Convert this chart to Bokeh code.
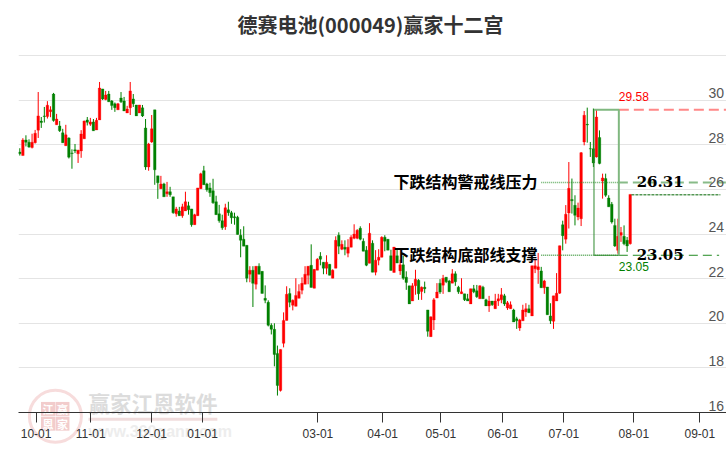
from bokeh.plotting import figure
from bokeh.embed import file_html
from bokeh.resources import INLINE
from bokeh.models import LinearAxis, FixedTicker, Range1d, ColumnDataSource, Title, Grid
from bokeh.core.properties import value

TITLE = "德赛电池(000049)赢家十二宫"
up_flags = ("GRGGRRRGGR" "RGRGGRGGGR" "RRGRGRRGRG" "GGRGGRRGGR" "GGRRGGRGRG"
            "GRGRRGGRRR" "GGGGGGGRGG" "GGGGGRGRGG" "GGGGGRRRGR" "RRRRRGRRGG"
            "RGRRGRGRRR" "RGGGRGRRRG" "GGRGRGGGRR" "GRGGRRRGRG" "GRGGRGGRGG"
            "RGGRGRRRGR" "RGGRRRGRRR" "GRGGRRRGRR" "GGRRRGGGRG" "RGGGGRRGGR")
highs = [27.85,28.3,28.43,28.25,28.5,28.67,30.37,29.25,29.7,29.96,
 29.73,30.33,29.39,29.07,28.72,28.9,28.34,27.8,28.04,27.78,
 28.66,29.09,29.25,29.21,29.16,29.21,30.82,30.51,30.42,30.42,
 30.01,29.9,29.88,30.37,30.15,29.75,30.82,30.28,29.79,29.79,
 29.79,29.16,28.09,29.34,29.57,26.61,26.61,26.3,26.34,26.12,
 25.67,25.22,25.22,25.36,25.9,25.45,25.13,24.91,26.07,26.75,
 27.06,26.3,26.3,26.48,25.72,25.31,24.87,25.36,25.45,25.04,
 24.96,24.82,24.22,24.35,23.5,22.56,22.56,22.56,22.69,22.33,
 21.7,21.03,20,20,19.0,18.83,20.49,21.66,21.57,21.07,
 22.02,21.75,22.06,22.56,22.56,23.54,22.42,22.92,23.19,22.74,
 23.05,22.65,22.42,23.9,24.08,23.72,23.72,23.77,23.95,24.44,
 24.22,24.35,23.81,23.46,24.49,23.72,23.28,23.32,23.9,23.95,
 23.77,23.3,23.42,23.3,22.85,23.03,22.33,21.68,21.8,22.4,
 21.98,21.65,21.87,20.6,20.3,21.13,21.8,21.98,22.17,22.07,
 21.95,22.43,22.33,21.68,22.02,21.32,21.32,21.55,21.72,21.72,
 21.7,21.68,21.1,21.23,21,21.32,21.32,21.58,21.32,21.0,
 20.98,20.65,20.29,20.2,20.83,20.9,20.83,22.58,22.85,23.15,
 22.53,21.95,21.63,20.9,21.23,22.25,23.48,24.6,25.3,27.23,
 26.49,25.74,25.41,27.68,29.52,29.67,28.13,29.63,29.6,28.65,
 26.71,26.71,25.74,25.44,24.69,24.69,24.32,24.39,23.87,25.78]
body_tops = [27.68,28.22,28.22,28.12,28.12,28.52,29.3,29.07,29.3,29.78,
 29.57,30.28,29.16,28.85,28.54,28.45,28.31,27.64,27.78,27.76,
 28.49,29.07,29.12,29.03,29.03,29.1,30.55,30.51,30.24,30.28,
 29.97,29.84,29.84,30.1,29.97,29.61,30.42,30.06,29.79,29.79,
 29.66,28.76,28.04,28.72,29.57,26.61,26.25,26.25,25.9,25.9,
 25.67,25.13,25.04,25.22,25.45,25.27,25.13,24.87,26.07,26.7,
 26.84,26.25,26.07,25.94,25.45,24.91,24.6,25.18,25.09,24.96,
 24.78,24.76,23.95,23.77,23.5,22.38,22.38,22.56,22.56,22.33,
 21.12,20.94,19.91,19.73,18.65,18.83,20.13,21.3,21.34,21.03,
 21.25,21.43,21.79,22.2,22.56,22.6,22.42,22.87,23.01,22.74,
 22.74,22.65,22.38,23.72,23.95,23.54,23.41,23.41,23.86,24,
 24.17,24.26,23.68,23.28,24.04,23.59,22.83,22.96,23.86,23.86,
 23.77,23.03,23.42,23.03,22.62,22.62,22.07,21.68,21.68,21.98,
 21.93,21.62,21.62,20.6,20.29,21.05,21.4,21.8,22.02,22.07,
 21.9,22.22,22.22,21.62,21.41,21.32,21.1,21.55,21.55,21.46,
 21.68,21.62,21.05,21.0,21,21,21.1,21.28,21.23,20.92,
 20.83,20.6,20.2,20.15,20.6,20.65,20.65,22.58,22.58,22.53,
 22.35,21.9,21.63,20.33,21.23,21.35,23.48,24.42,24.89,26.05,
 25.55,25.29,25.17,27.65,29.33,28.92,27.83,27.83,29.25,28.33,
 26.52,26.49,25.62,25.34,24.39,23.9,24.07,23.9,23.72,25.78]
body_bottoms = [27.6,27.52,28.12,27.9,27.88,28.1,28.66,29.0,29.27,29.27,
 29.49,29.09,28.9,28.63,28.09,27.96,27.45,27.61,27.73,27.6,
 27.73,28.27,29.01,28.93,28.63,28.67,29.12,30.06,30.04,29.93,
 29.76,29.67,29.57,29.93,29.52,29.43,29.66,29.84,29.3,29.43,
 29.3,27.01,27.01,28.13,26.88,26.3,26.03,25.67,25.81,25.76,
 24.96,24.91,24.82,24.82,25.04,25.09,24.42,24.42,24.82,26.03,
 26.21,25.99,25.85,25.4,24.87,24.6,24.28,24.33,24.96,24.73,
 24.73,23.98,23.72,23.46,22.02,22.2,21.79,21.75,22.2,21.34,
 21.03,19.91,19.73,18.6,17.21,16.99,19.1,20.13,20.94,20.81,
 20.76,21.12,21.48,21.75,22.15,21.61,21.57,22.38,22.87,22.47,
 22.47,22.15,22.02,22.47,23.46,23.32,23.32,23.14,23.41,23.81,
 23.81,23.77,23.23,22.6,22.69,22.29,22.29,22.83,22.96,23.68,
 23.28,22.37,22.28,22.7,22.35,22.02,21.83,20.87,21.0,21.68,
 21.32,21.43,21.55,19.64,19.4,20.15,21.13,21.4,21.71,21.86,
 21.41,21.8,21.86,21.41,21.32,21.05,21.0,20.87,21.41,21.19,
 21.1,21.1,20.78,20.78,20.83,20.65,21,21.05,20.87,20.69,
 20.65,20.06,20.11,19.79,20.11,20.51,20.47,20.33,22.44,22.4,
 21.59,21.59,20.38,20.11,20.09,21.0,21.35,23.93,23.77,24.95,
 25.49,24.84,24.77,24.69,28.13,28.89,27.82,27.19,27.46,27.16,
 26.38,25.74,25.22,24.54,23.47,23.27,23.95,23.57,23.47,23.57]
lows = [27.52,27.52,27.93,27.87,27.84,28.06,28.31,28.76,29.0,29.18,
 29.24,29.04,28.9,28.58,28.09,27.96,27.39,26.93,27.63,27.19,
 27.42,28.27,28.87,28.85,28.63,28.67,29.12,30.01,30,29.93,
 29.57,29.48,29.57,29.88,29.52,29.43,29.34,29.7,29.3,29.43,
 29.25,26.88,26.84,28.09,26.21,25.58,26.03,25.67,25.67,25.67,
 24.91,24.78,24.82,24.73,25.04,24.87,24.33,24.42,24.82,26.03,
 26.21,25.9,25.67,25.36,24.87,24.51,24.19,24.19,24.82,24.46,
 24.42,23.98,22.96,23.46,21.84,21.84,20.73,21.52,22.2,21.34,
 20.9,19.86,19.5,18.07,16.76,16.94,18.92,20.13,20.72,20.58,
 20.76,21.12,21.3,21.75,21.75,21.61,21.57,22.38,22.6,22.2,
 22.2,22.15,22.02,22.47,23.1,23.28,23.05,22.96,23.41,23.77,
 23.77,23.72,23.23,22.56,22.69,22.29,22.15,22.6,22.96,23.23,
 23.28,22.37,22.28,22.7,22.17,21.95,21.5,20.87,21.0,21.28,
 21.05,21.05,21.35,19.4,19.4,19.7,21.13,21.32,21.32,21.8,
 21.41,21.8,21.68,21.32,21.32,21.0,21.0,20.87,21.35,21.14,
 21.1,21.1,20.78,20.51,20.78,20.65,20.78,20.9,20.78,20.6,
 20.65,20.06,19.75,19.66,20.11,20.29,20.47,20.33,22.25,21.77,
 21.59,21.32,20.38,19.97,19.75,21.0,21.32,23.27,23.57,24.25,
 24.92,24.39,24.62,24.36,27.98,28.1,27.46,27.01,27.43,27.13,
 25.59,25.67,25.22,24.47,23.42,23.12,23.65,23.5,23.2,23.53]

tick_idx = [5.3, 23.1, 43, 59.6, 97.2, 118.3, 137.3, 157.5, 177.4, 200.2, 221.7]
tick_txt = ["10-01","11-01","12-01","01-01","03-01","04-01","05-01","06-01","07-01","08-01","09-01"]
y_labels = [16,18,20,22,24,26,28,30]
y_grid = [18,20,22,24,26,28,30,32]

high_level = 29.58
resist_level = 26.31
support_level = 23.05
close_level = 25.76
RED = "#ff0000"
GREEN = "#008000"

n = len(highs)
xs = list(range(n))
colors = [RED if f == "R" else GREEN for f in up_flags]
src = ColumnDataSource(dict(x=xs, h=highs, l=lows, t=body_tops, b=body_bottoms, c=colors))

p = figure(width=726, height=450, output_backend="svg", toolbar_location=None,
           x_range=Range1d(-0.424, 230.4), y_range=Range1d(16, 32.68),
           min_border_left=18, min_border_right=0, min_border_top=40, min_border_bottom=38,
           x_axis_type=None, y_axis_type=None)
p.outline_line_color = None
p.background_fill_color = "white"
p.border_fill_color = "white"

p.title = Title(text=TITLE, align="left", text_font="Noto Sans CJK SC", text_font_style="bold",
                text_font_size="20px", text_color="#333333", offset=219, standoff=3)

xax = LinearAxis(ticker=FixedTicker(ticks=tick_idx),
                 major_label_overrides={t: s for t, s in zip(tick_idx, tick_txt)},
                 major_tick_in=0, major_tick_out=10, minor_tick_line_color=None,
                 axis_line_color="#333333", major_tick_line_color="#333333",
                 major_label_text_color="#333333", major_label_text_font="Liberation Sans",
                 major_label_text_font_size="12px", major_label_standoff=6, level="overlay")
p.add_layout(xax, "below")

p.add_layout(Grid(dimension=1, ticker=FixedTicker(ticks=y_grid), grid_line_color="#e4e4e4", grid_line_width=1))

p.segment("x", "h", "x", "l", source=src, line_color="c", line_width=1)
p.vbar("x", top="t", bottom="b", width=0.85, source=src, fill_color="c", line_color="c", line_width=0.3)

# levels
left_i, right_i, end_i, label_i = 187.2, 195.3, 230.4, 170.0
p.line([right_i, end_i], [high_level]*2, line_color="#ff8888", line_width=2, line_dash="10 5")
p.line([label_i, right_i], [resist_level]*2, line_color="#228b22", line_width=1.5, line_dash="1 1", line_alpha=0.7)
p.line([right_i, end_i], [resist_level]*2, line_color="#88bb88", line_width=2, line_dash="9 5")
p.line([label_i, right_i], [support_level]*2, line_color="#228b22", line_width=1.5, line_dash="1 1", line_alpha=0.8)
p.line([right_i, 228.0], [support_level]*2, line_color="#228b22", line_width=1, line_dash="9 5")
p.line([199.4, 228.4], [close_level]*2, line_color="#006400", line_width=1, line_dash="3 1")
p.line([left_i, left_i, right_i], [high_level, support_level, support_level], line_color="#2e8b2e", line_width=1)
p.line([left_i, right_i, right_i], [high_level, high_level, support_level], line_color="#80b880", line_width=2)

def txt(x, y, s, font, size, color, style="normal", align="left", base="middle", level="glyph", dy=0):
    p.text([x], [y], text=[s], text_font=value(font), text_font_size=size, text_color=color,
           text_font_style=style, text_align=align, text_baseline=base, level=level, y_offset=dy)

# value-axis labels sit just above their gridlines, inside the plot
for v in y_labels:
    p.text([229.6], [v], text=[str(v)], text_font=value("Liberation Sans"), text_font_size="14px",
           text_color="#555555", text_align="right", text_baseline="bottom", y_offset=-2)

txt(121.8, resist_level, "下跌结构警戒线压力", "Noto Sans CJK SC", "16px", "#000000", "bold", dy=-2)
txt(121.8, support_level, "下跌结构底部线支撑", "Noto Sans CJK SC", "16px", "#000000", "bold", dy=-1)
txt(201.1, resist_level, "26.31", "DejaVu Serif", "15px", "#000000", "bold", dy=-1)
txt(201.1, support_level, "23.05", "DejaVu Serif", "15px", "#000000", "bold", dy=-1)
txt(195.3, 30.16, "29.58", "Liberation Sans", "12px", RED)
txt(195.3, 22.55, "23.05", "Liberation Sans", "12px", GREEN)

# watermark
txt(22.4, 16.46, "赢家江恩软件", "Noto Sans CJK SC", "21.5px", "#dcdcdc", "bold", level="annotation")
txt(22.4, 15.16, "www.360gann.com", "Liberation Sans", "16px", "#ededed", "bold", level="annotation")
p.line([22.4, 64.4], [15.7, 15.7], line_color="#f0dcdc", line_width=3, level="annotation")
p.scatter([11.6], [15.83], size=52, marker="circle", fill_color=None, line_color="#f7dcdc", line_width=3, level="annotation")
for cx, cy, ch in [(9.2, 16.16, "江"), (13.9, 16.16, "赢"), (9.2, 15.5, "恩"), (13.9, 15.5, "家")]:
    p.scatter([cx], [cy], size=14, marker="square", fill_color="#f2cccc", line_color=None, level="annotation")
    txt(cx, cy, ch, "Noto Sans CJK SC", "11px", "#ffffff", "bold", align="center", level="annotation")

open("out.html", "w").write(file_html(p, INLINE))
